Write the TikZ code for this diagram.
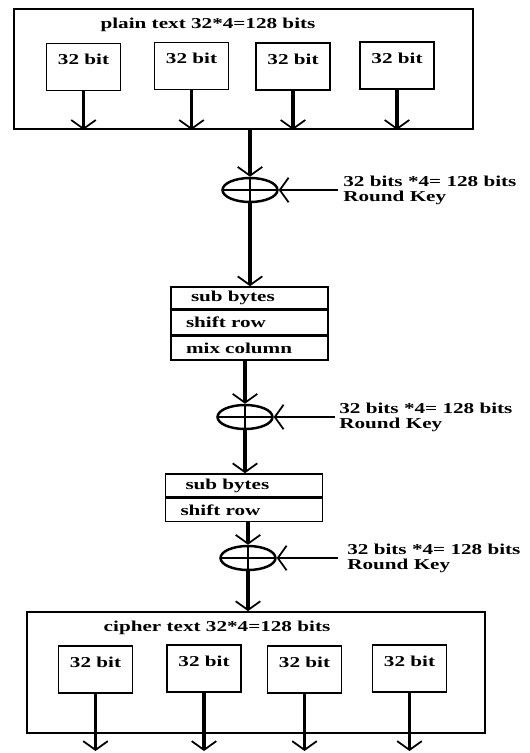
\documentclass[tikz,border=0pt]{standalone}
\usepackage{fontspec}
\setmainfont{Liberation Serif}[FakeStretch=1.4]
\usepackage{tikz}
\usetikzlibrary{arrows.meta,positioning,shapes.geometric}

\begin{document}
\begin{tikzpicture}[
    font=\bfseries\fontsize{8.6}{8.6}\selectfont,
    >={Straight Barb[length=5pt,width=14pt,line width=1pt]},
    flow/.style={->, line width=2pt},
    keyline/.style={->, line width=1.1pt},
    block/.style={
        draw=black,
        line width=1pt,
        inner sep=0pt
    },
    wordbox/.style={
        draw=black,
        line width=0.9pt,
        inner sep=0pt,
        minimum width=1.48cm,
        text height=0.42cm,
        text depth=0.52cm
    },
    stagebox/.style={
        draw=black,
        line width=0.9pt,
        inner xsep=0.3cm,
        inner ysep=0pt,
        text width=2.54cm,
        align=left
    },
    xorop/.style={
        ellipse,
        draw=black,
        line width=1.4pt,
        minimum width=1.10cm,
        minimum height=0.48cm,
        inner sep=0pt,
        path picture={
            \draw[line width=1.1pt]
                (path picture bounding box.north) -- (path picture bounding box.south)
                (path picture bounding box.west) -- (path picture bounding box.east);
        }
    },
    keytext/.style={align=left, inner sep=0pt, anchor=west}
]

% Stable crop.
\path[use as bounding box] (0,0) rectangle (10.58,-15.06);

% --------------------------------------------------
% Plain text block
% --------------------------------------------------
\node[block, minimum width=9.18cm, minimum height=2.40cm] (plainbox) at (4.87,-1.38) {};
\node[inner sep=0pt] (plaintitle) at (4.16,-0.50) {plain text 32*4=128 bits};

\node[wordbox] (p1) at (1.67,-1.34) {32 bit};
\node[wordbox] (p2) at (3.83,-1.32) {32 bit};
\node[wordbox] (p3) at (5.86,-1.33) {32 bit};
\node[wordbox] (p4) at (7.94,-1.31) {32 bit};

% --------------------------------------------------
% Rounds
% --------------------------------------------------
\node[xorop] (xor1) at (5.00,-3.80) {};
\coordinate (key1) at (6.76,-3.80);
\node[keytext, right=0.10cm of key1] (keytext1) {32 bits *4= 128 bits\\Round Key};

\node[stagebox, minimum height=0.44cm] (sb1) at (4.99,-5.96) {\hspace{0.1cm}sub bytes};
\node[stagebox, minimum height=0.48cm, below=0pt of sb1] (sr1) {shift row};
\node[stagebox, minimum height=0.48cm, below=0pt of sr1] (mc1) {mix column};

\node[xorop] (xor2) at (4.90,-8.34) {};
\coordinate (key2) at (6.70,-8.34);
\node[keytext, right=0.08cm of key2] (keytext2) {32 bits *4= 128 bits\\Round Key};

\node[stagebox, minimum height=0.46cm] (sb2) at (4.88,-9.71) {\hspace{0.1cm}sub bytes};
\node[stagebox, minimum height=0.46cm, below=0pt of sb2] (sr2) {shift row};

\node[xorop] (xor3) at (4.96,-11.16) {};
\coordinate (key3) at (6.76,-11.16);
\node[keytext, right=0.18cm of key3] (keytext3) {32 bits *4= 128 bits\\Round Key};

% --------------------------------------------------
% Cipher text block
% --------------------------------------------------
\node[block, minimum width=9.16cm, minimum height=2.42cm] (cipherbox) at (5.12,-13.45) {};
\node[inner sep=0pt] (ciphertitle) at (4.34,-12.56) {cipher text 32*4=128 bits};

\node[wordbox] (c1) at (1.91,-13.39) {32 bit};
\node[wordbox] (c2) at (4.08,-13.37) {32 bit};
\node[wordbox] (c3) at (6.09,-13.39) {32 bit};
\node[wordbox] (c4) at (8.19,-13.37) {32 bit};

\coordinate (out1) at (1.78,-15.02);
\coordinate (out2) at (4.04,-15.02);
\coordinate (out3) at (6.00,-15.02);
\coordinate (out4) at (8.14,-15.02);

% --------------------------------------------------
% Arrows
% --------------------------------------------------
\foreach \b in {p1,p2,p3,p4}
    \draw[flow] (\b.south) -- (\b.south |- plainbox.south);

\draw[flow] (xor1.north |- plainbox.south) -- (xor1.north);
\draw[flow] (xor1.south) -- (xor1.south |- sb1.north);
\draw[keyline] (key1) -- (xor1.east);

\draw[flow] (xor2.north |- mc1.south) -- (xor2.north);
\draw[flow] (xor2.south) -- (xor2.south |- sb2.north);
\draw[keyline] (key2) -- (xor2.east);

\draw[flow] (xor3.north |- sr2.south) -- (xor3.north);
\draw[flow] (xor3.south) -- (xor3.south |- cipherbox.north);
\draw[keyline] (key3) -- (xor3.east);

\draw[flow] (c1.south) -- (c1.south |- out1);
\draw[flow] (c2.south) -- (c2.south |- out2);
\draw[flow] (c3.south) -- (c3.south |- out3);
\draw[flow] (c4.south) -- (c4.south |- out4);

\end{tikzpicture}
\end{document}
